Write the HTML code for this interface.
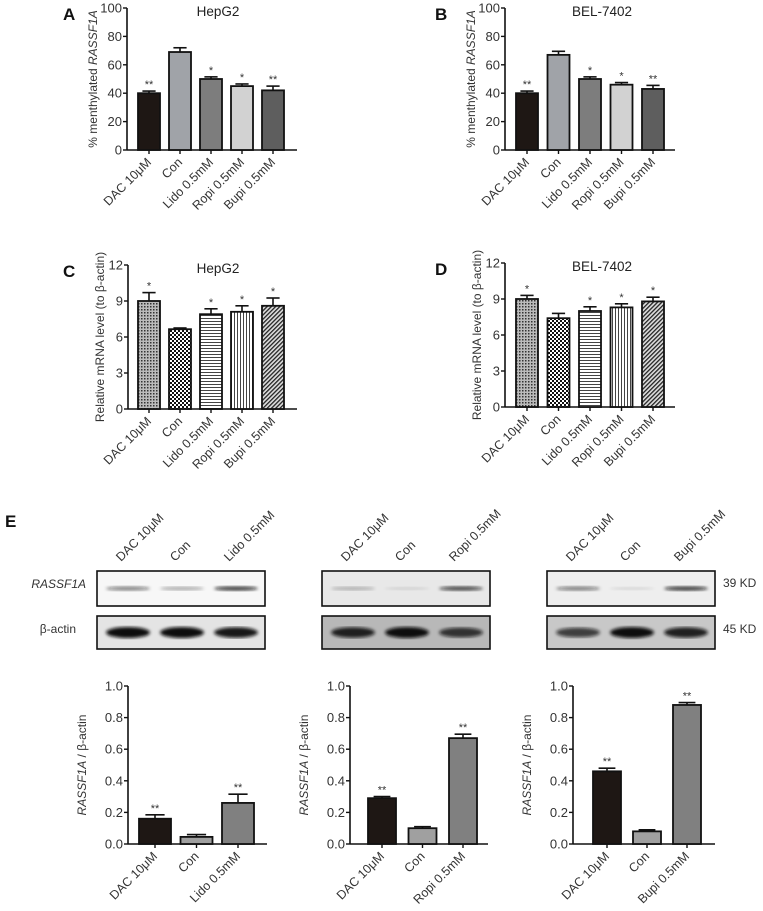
<!DOCTYPE html>
<html><head><meta charset="utf-8"><style>
body{margin:0;background:#fff}
svg{display:block;font-family:"Liberation Sans",sans-serif}
</style></head><body>
<svg id="fig" width="763" height="911" viewBox="0 0 763 911" xmlns="http://www.w3.org/2000/svg">
<defs>
<pattern id="pDense" width="3" height="3" patternUnits="userSpaceOnUse"><rect width="3" height="3" fill="#bbb"/><rect width="1.5" height="1.5" fill="#333"/></pattern>
<pattern id="pCheck" width="4" height="4" patternUnits="userSpaceOnUse"><rect width="4" height="4" fill="#fff"/><rect width="2" height="2" fill="#111"/><rect x="2" y="2" width="2" height="2" fill="#111"/></pattern>
<pattern id="pHor" width="4" height="3" patternUnits="userSpaceOnUse"><rect width="4" height="3" fill="#fff"/><rect width="4" height="1" fill="#444"/></pattern>
<pattern id="pVer" width="3" height="4" patternUnits="userSpaceOnUse"><rect width="3" height="4" fill="#fff"/><rect width="1" height="4" fill="#444"/></pattern>
<pattern id="pDiag" width="3" height="3" patternUnits="userSpaceOnUse" patternTransform="rotate(45)"><rect width="3" height="3" fill="#ddd"/><rect width="1.3" height="3" fill="#222"/></pattern>
<filter id="blur"><feGaussianBlur stdDeviation="1.6"/></filter>
</defs>
<g id="root"></g>
</svg>
<script>
const catsFive = ["DAC 10μM","Con","Lido 0.5mM","Ropi 0.5mM","Bupi 0.5mM"];
const valsA = [40,69,50,45,42];
const errA = [1.5,3,1.5,1.5,3];
const starsA = ["**","","*","*","**"];
const valsB = [40,67,50,46,43];
const errB = [1.5,2.5,1.5,1.5,2.5];
const starsB = ["**","","*","*","**"];
const valsC = [9.0,6.65,7.9,8.1,8.6];
const errC = [0.7,0.1,0.45,0.5,0.65];
const starsC = ["*","","*","*","*"];
const valsD = [9.0,7.4,8.0,8.3,8.8];
const errD = [0.3,0.4,0.35,0.3,0.35];
const starsD = ["*","","*","*","*"];
const ticksPct = [0,20,40,60,80,100];
const ticksMrna = [0,3,6,9,12];
const ticksRatio = [0,0.2,0.4,0.6,0.8,1.0];
const catsE1 = ["DAC 10μM","Con","Lido 0.5mM"];
const valsE1 = [0.16,0.045,0.26];
const errE1 = [0.025,0.015,0.055];
const catsE2 = ["DAC 10μM","Con","Ropi 0.5mM"];
const valsE2 = [0.29,0.10,0.67];
const errE2 = [0.01,0.01,0.025];
const catsE3 = ["DAC 10μM","Con","Bupi 0.5mM"];
const valsE3 = [0.46,0.08,0.88];
const errE3 = [0.02,0.01,0.015];
const starsE = ["**","","**"];

const NS="http://www.w3.org/2000/svg";
const root=document.getElementById('root');
function mk(tag,attrs,parent){const e=document.createElementNS(NS,tag);for(const k in attrs)e.setAttribute(k,attrs[k]);(parent||root).appendChild(e);return e;}
function txt(s,attrs,parent){const t=mk('text',attrs,parent);t.textContent=s;return t;}

function chart(o){
  const g=mk('g',{});
  
  
  const y=v=>o.y0-(v-o.tmin)/(o.tmax-o.tmin)*(o.y0-o.y1);
  const x=i=>o.ax+o.first+i*o.step;
  const ya=mk('line',{x1:o.ax,y1:o.y1,x2:o.ax,y2:o.y0,stroke:'#111','stroke-width':1.6},g);
  
  
  const xa=mk('line',{x1:o.ax,y1:o.y0,x2:o.xend,y2:o.y0,stroke:'#111','stroke-width':1.6},g);
  
  
  o.ticks.forEach(t=>{
    mk('line',{x1:o.ax-4,y1:y(t),x2:o.ax,y2:y(t),stroke:'#111','stroke-width':1.4},g);
    const tl=txt(o.fmt(t),{x:o.ax-5,y:y(t)+4.5,'text-anchor':'end','font-size':13,fill:'#333'},g);
    
    
  });
  o.vals.forEach((v,i)=>{
    const cx=x(i), top=y(v+o.err[i]);
    mk('line',{x1:cx,y1:y(v),x2:cx,y2:top,stroke:'#111','stroke-width':1.6},g);
    mk('line',{x1:cx-o.bw*0.3,y1:top,x2:cx+o.bw*0.3,y2:top,stroke:'#111','stroke-width':1.6},g);
    const b=mk('rect',{x:cx-o.bw/2,y:y(v),width:o.bw,height:o.y0-y(v),fill:o.fills[i],stroke:'#111','stroke-width':1.8},g);
    
    
    if(o.stars[i]){const s=txt(o.stars[i],{x:cx,y:top-3,'text-anchor':'middle','font-size':11,fill:'#333'},g);
      
      }
    mk('line',{x1:cx,y1:o.y0,x2:cx,y2:o.y0+4,stroke:'#111','stroke-width':1.4},g);
    const l=txt(o.cats[i],{x:cx+3,y:o.y0+13,'text-anchor':'end','font-size':12.5,fill:'#333',transform:`rotate(-45 ${cx+3} ${o.y0+13})`},g);
    
    
  });
  const yt=mk('text',{x:0,y:0,'text-anchor':'middle','font-size':12,fill:'#333',transform:`translate(${o.ax-o.titleOff},${(o.y0+o.y1)/2}) rotate(-90)`},g);
  
  
  yt.innerHTML=o.ytitle;
  if(o.title){const t=txt(o.title,{x:o.tx,y:o.y1+8,'text-anchor':'middle','font-size':13.5,fill:'#222'},g);
    
    }
  if(o.letter){const t=txt(o.letter,{x:o.lx,y:o.y1+12,'font-size':17,'font-weight':'bold',fill:'#111'},g);
    
    }
}
const greyFills=['#1e1714','#a0a3a8','#7d7d7d','#d2d2d2','#5e5e5e'];
const patFills=['url(#pDense)','url(#pCheck)','url(#pHor)','url(#pVer)','url(#pDiag)'];
const pctTitle='% menthylated <tspan font-style="italic">RASSF1A</tspan>';
const mTitle='Relative mRNA level (to β-actin)';
const rTitle='<tspan font-style="italic">RASSF1A</tspan> / β-actin';
const f0=t=>String(t), f1=t=>t.toFixed(1);
chart({name:'chart-a',ax:127,y0:150,y1:8,tmin:0,tmax:100,ticks:ticksPct,fmt:f0,first:22,step:31,bw:22,xend:297,cats:catsFive,vals:valsA,err:errA,stars:starsA,fills:greyFills,ytitle:pctTitle,titleOff:30,title:'HepG2',tx:218,letter:'A',lx:63});
chart({name:'chart-b',ax:505,y0:150,y1:8,tmin:0,tmax:100,ticks:ticksPct,fmt:f0,first:22,step:31.5,bw:22,xend:675,cats:catsFive,vals:valsB,err:errB,stars:starsB,fills:greyFills,ytitle:pctTitle,titleOff:30,title:'BEL-7402',tx:602,letter:'B',lx:435});
chart({name:'chart-c',ax:128,y0:409,y1:265,tmin:0,tmax:12,ticks:ticksMrna,fmt:f0,first:21,step:31,bw:22,xend:297,cats:catsFive,vals:valsC,err:errC,stars:starsC,fills:patFills,ytitle:mTitle,titleOff:24,title:'HepG2',tx:218,letter:'C',lx:63});
chart({name:'chart-d',ax:505,y0:407,y1:263,tmin:0,tmax:12,ticks:ticksMrna,fmt:f0,first:22,step:31.5,bw:22,xend:675,cats:catsFive,vals:valsD,err:errD,stars:starsD,fills:patFills,ytitle:mTitle,titleOff:24,title:'BEL-7402',tx:602,letter:'D',lx:435});
const eF=['#1e1714','#a0a0a0','#808080'];
chart({name:'chart-e-lido',ax:128,y0:844,y1:686,tmin:0,tmax:1,ticks:ticksRatio,fmt:f1,first:27,step:41.5,bw:32,xend:267,cats:catsE1,vals:valsE1,err:errE1,stars:starsE,fills:eF,ytitle:rTitle,titleOff:42});
chart({name:'chart-e-ropi',ax:350,y0:844,y1:686,tmin:0,tmax:1,ticks:ticksRatio,fmt:f1,first:32,step:40.5,bw:28,xend:488,cats:catsE2,vals:valsE2,err:errE2,stars:starsE,fills:eF,ytitle:rTitle,titleOff:42});
chart({name:'chart-e-bupi',ax:573,y0:844,y1:686,tmin:0,tmax:1,ticks:ticksRatio,fmt:f1,first:34,step:40,bw:28,xend:715,cats:catsE3,vals:valsE3,err:errE3,stars:starsE,fills:eF,ytitle:rTitle,titleOff:42});

const eL=txt('E',{x:5,y:527,'font-size':17,'font-weight':'bold',fill:'#111'});


const r1=txt('RASSF1A',{x:86,y:588,'text-anchor':'end','font-size':12,'font-style':'italic',fill:'#333'});


const r2=txt('β-actin',{x:76,y:633,'text-anchor':'end','font-size':12,fill:'#333'});


const k1=txt('39 KD',{x:723,y:587,'font-size':12,fill:'#333'});


const k2=txt('45 KD',{x:723,y:633,'font-size':12,fill:'#333'});


const blots=[
 {x:97,cats:catsE1,top:[0.5,0.3,0.75],bot:[1,1,0.95],bg1:'#f7f7f7',bg2:'#e4e4e4'},
 {x:322,cats:catsE2,top:[0.25,0.1,0.7],bot:[0.9,1,0.8],bg1:'#e8e8e8',bg2:'#b8b8b8'},
 {x:547,cats:catsE3,top:[0.5,0.1,0.75],bot:[0.75,1,0.9],bg1:'#eeeeee',bg2:'#c8c8c8'}];
blots.forEach((b,bi)=>{
  const w=168;
  [[571,35,b.bg1,b.top,2.5],[616,33,b.bg2,b.bot,5]].forEach(([yy,h,bg,ints,th],ri)=>{
    const box=mk('rect',{x:b.x,y:yy,width:w,height:h,fill:bg,stroke:'#111','stroke-width':1.6});
    
    
    ints.forEach((v,i)=>{
      const cx=b.x+28+i*54;
      const band=mk('ellipse',{cx:cx+3,cy:yy+h/2,rx:22,ry:th*(0.6+v*0.5),fill:'#111','fill-opacity':v,filter:'url(#blur)'});
      
      
    });
  });
  b.cats.forEach((c,i)=>{
    const cx=b.x+24+i*54;
    const t=txt(c,{x:cx,y:562,'font-size':12.5,fill:'#333',transform:`rotate(-45 ${cx} 562)`});
    
    
  });
});
</script>
</body></html>
